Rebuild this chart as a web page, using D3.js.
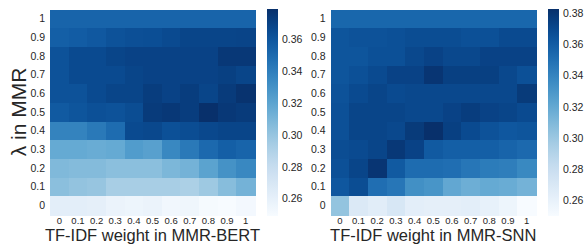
<!DOCTYPE html>
<html><head><meta charset="utf-8">
<script src="https://cdn.jsdelivr.net/npm/d3@7"></script>
<style>
body{margin:0;background:#fff;}
text{font-family:"Liberation Sans",Arial,sans-serif;}
</style></head>
<body><svg id="c" width="587" height="244"></svg>
<script>
const tfidf = ["0","0.1","0.2","0.3","0.4","0.5","0.6","0.7","0.8","0.9","1"];
const lambdas = ["1","0.9","0.8","0.7","0.6","0.5","0.4","0.3","0.2","0.1","0"];
// rows: lambda 1 -> 0 ; columns: tf-idf weight 0 -> 1
const bertValues = [
 [0.3530,0.3530,0.3530,0.3530,0.3530,0.3530,0.3530,0.3530,0.3530,0.3530,0.3530],
 [0.3556,0.3570,0.3590,0.3621,0.3635,0.3640,0.3660,0.3686,0.3686,0.3686,0.3690],
 [0.3621,0.3660,0.3660,0.3686,0.3699,0.3699,0.3699,0.3699,0.3699,0.3751,0.3751],
 [0.3621,0.3660,0.3660,0.3660,0.3686,0.3699,0.3699,0.3699,0.3699,0.3712,0.3686],
 [0.3621,0.3621,0.3660,0.3686,0.3686,0.3725,0.3699,0.3725,0.3686,0.3738,0.3777],
 [0.3582,0.3608,0.3634,0.3621,0.3647,0.3738,0.3751,0.3725,0.3790,0.3751,0.3738],
 [0.3374,0.3374,0.3426,0.3491,0.3660,0.3673,0.3634,0.3647,0.3673,0.3686,0.3686],
 [0.3166,0.3166,0.3153,0.3166,0.3244,0.3218,0.3348,0.3426,0.3504,0.3556,0.3530],
 [0.3075,0.3062,0.3062,0.3036,0.3036,0.3036,0.3088,0.3114,0.3205,0.3296,0.3348],
 [0.3036,0.3010,0.2997,0.2932,0.2932,0.2932,0.2932,0.2919,0.2971,0.3049,0.3114],
 [0.2620,0.2620,0.2607,0.2568,0.2555,0.2568,0.2529,0.2542,0.2503,0.2490,0.2516]
];
const snnValues = [
 [0.3549,0.3549,0.3549,0.3549,0.3549,0.3549,0.3549,0.3549,0.3549,0.3549,0.3549],
 [0.3642,0.3655,0.3655,0.3668,0.3682,0.3682,0.3682,0.3668,0.3668,0.3695,0.3695],
 [0.3642,0.3642,0.3668,0.3668,0.3708,0.3735,0.3708,0.3708,0.3735,0.3735,0.3735],
 [0.3642,0.3668,0.3695,0.3735,0.3735,0.3801,0.3748,0.3748,0.3748,0.3708,0.3668],
 [0.3655,0.3695,0.3722,0.3695,0.3708,0.3708,0.3708,0.3708,0.3708,0.3708,0.3775],
 [0.3668,0.3722,0.3722,0.3722,0.3708,0.3708,0.3735,0.3761,0.3735,0.3722,0.3695],
 [0.3668,0.3722,0.3722,0.3708,0.3775,0.3828,0.3748,0.3695,0.3655,0.3628,0.3642],
 [0.3682,0.3695,0.3722,0.3788,0.3735,0.3615,0.3588,0.3588,0.3588,0.3562,0.3535],
 [0.3668,0.3722,0.3801,0.3615,0.3522,0.3522,0.3509,0.3469,0.3442,0.3429,0.3375],
 [0.3628,0.3682,0.3509,0.3469,0.3336,0.3309,0.3202,0.3163,0.3189,0.3176,0.3136],
 [0.3029,0.2683,0.2643,0.2710,0.2630,0.2617,0.2617,0.2630,0.2603,0.2564,0.2497]
];
const bertTicks = [0.26,0.28,0.30,0.32,0.34,0.36];
const snnTicks = [0.26,0.28,0.30,0.32,0.34,0.36,0.38];

const svg = d3.select("#c");
const tickColor = "#262626";

function heat(cfg){
  const g = svg.append("g");
  const x = d3.scaleBand().domain(tfidf).range([cfg.x0, cfg.x1]);
  const y = d3.scaleBand().domain(lambdas).range([cfg.y0, cfg.y1]);
  const ext = d3.extent(cfg.values.flat());
  const color = d3.scaleSequential(d3.interpolateBlues).domain(ext);
  cfg.values.forEach((row,i)=>{
    g.selectAll(null).data(row).enter().append("rect")
      .attr("x",(d,j)=>x(tfidf[j])).attr("y",y(lambdas[i]))
      .attr("width",x.bandwidth()+0.5).attr("height",y.bandwidth()+0.5)
      .attr("fill",d=>color(d)).attr("shape-rendering","crispEdges");
  });
  const xa = g.append("g").attr("transform",`translate(0,${cfg.y1})`)
    .call(d3.axisBottom(x).tickSize(0).tickPadding(2.5));
  const ya = g.append("g").attr("transform",`translate(${cfg.x0},0)`)
    .call(d3.axisLeft(y).tickSize(0).tickPadding(5));
  xa.select(".domain").remove();
  ya.select(".domain").remove();
  xa.selectAll("text").attr("fill",tickColor).style("font-size","9.5px")
     .style("font-family","Liberation Sans, Arial, sans-serif");
  ya.selectAll("text").attr("fill",tickColor).style("font-size","10.5px")
     .style("font-family","Liberation Sans, Arial, sans-serif");
  const cy = d3.scaleLinear().domain(ext).range([cfg.cb1, cfg.cb0]);
  const defs = svg.append("defs");
  const gid = "grad"+cfg.id;
  const grad = defs.append("linearGradient").attr("id",gid)
    .attr("x1",0).attr("x2",0).attr("y1",1).attr("y2",0);
  d3.range(0,1.0001,0.05).forEach(t=>grad.append("stop")
    .attr("offset",t).attr("stop-color",d3.interpolateBlues(t)));
  g.append("rect").attr("x",cfg.cbx).attr("y",cfg.cb0)
    .attr("width",cfg.cbw).attr("height",cfg.cb1-cfg.cb0).attr("fill",`url(#${gid})`);
  const ca = g.append("g").attr("transform",`translate(${cfg.cbx+cfg.cbw},0)`)
    .call(d3.axisRight(cy).tickValues(cfg.ticks).tickFormat(d3.format(".2f")).tickSize(0).tickPadding(4));
  ca.select(".domain").remove();
  ca.selectAll("text").attr("fill",tickColor).style("font-size","10.5px")
    .style("font-family","Liberation Sans, Arial, sans-serif");
  g.append("text").attr("x",(cfg.x0+cfg.x1)/2).attr("y",240.5)
    .attr("text-anchor","middle").attr("fill",tickColor)
    .style("font-size","16.5px").text(cfg.xtitle);
}

heat({id:1, values:bertValues, x0:50, x1:255, y0:9.5, y1:215,
  cbx:267, cbw:11, cb0:9, cb1:216, ticks:bertTicks, xtitle:"TF-IDF weight in MMR-BERT"});
heat({id:2, values:snnValues, x0:330.5, x1:536, y0:9.5, y1:215,
  cbx:548, cbw:11, cb0:9, cb1:216, ticks:snnTicks, xtitle:"TF-IDF weight in MMR-SNN"});

svg.append("text").attr("transform","translate(26,112) rotate(-90)")
  .attr("text-anchor","middle").attr("fill",tickColor)
  .style("font-size","21px").text("λ in MMR");
</script></body></html>
